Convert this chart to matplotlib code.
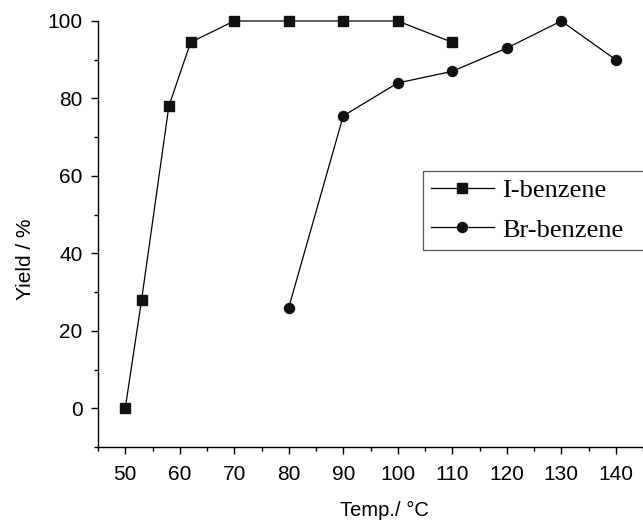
import matplotlib
matplotlib.use("Agg")
import matplotlib.pyplot as plt
from matplotlib.ticker import MultipleLocator

# Data
i_temp = [50, 53, 58, 62, 70, 80, 90, 100, 110]
i_yield = [0, 28, 78, 94.5, 100, 100, 100, 100, 94.5]
br_temp = [80, 90, 100, 110, 120, 130, 140]
br_yield = [26, 75.5, 84, 87, 93, 100, 90]
xticks = [50, 60, 70, 80, 90, 100, 110, 120, 130, 140]
yticks = [0, 20, 40, 60, 80, 100]

plt.rcParams['font.family'] = ['Liberation Sans', 'DejaVu Sans']

fig = plt.figure(figsize=(6.43, 5.22), dpi=100)
ax = fig.add_axes([98/643, 75/522, 545/643, 426/522])

ax.plot(i_temp, i_yield, color='black', lw=0.9, marker='s', ms=6.5,
        mfc='#111111', mec='#111111', clip_on=False, label='I-benzene', zorder=3)
ax.plot(br_temp, br_yield, color='black', lw=0.9, marker='o', ms=7.2,
        mfc='#111111', mec='#111111', clip_on=False, label='Br-benzene', zorder=3)

ax.set_xlim(45, 145)
ax.set_ylim(-10, 100)
ax.set_xticks(xticks)
ax.set_yticks(yticks)
ax.xaxis.set_minor_locator(MultipleLocator(5))
ax.yaxis.set_minor_locator(MultipleLocator(10))
ax.spines['top'].set_visible(False)
ax.spines['right'].set_visible(False)
for s in ('left', 'bottom'):
    ax.spines[s].set_linewidth(1.0)
ax.tick_params(which='major', direction='out', length=5, width=1.0, labelsize=15)
ax.tick_params(which='minor', direction='out', length=3, width=1.0)
ax.tick_params(axis='y', which='major', pad=6)
ax.tick_params(axis='x', which='major', pad=8)

ax.set_xlabel('Temp./ °C', fontsize=14.5)
ax.set_ylabel('Yield / %', fontsize=15)
ax.xaxis.set_label_coords(0.525, -0.127)
ax.yaxis.set_label_coords(-0.115, 0.44)

leg = ax.legend(loc='upper left', bbox_to_anchor=(0.596, 0.465, 0.6, 0.183),
                mode='expand', borderaxespad=0, fancybox=False, framealpha=1,
                edgecolor='#555555', handlelength=2.4, handletextpad=0.3,
                borderpad=0.3, labelspacing=0.6,
                prop={'family': 'Liberation Serif', 'size': 19})
leg.get_frame().set_linewidth(0.9)

fig.savefig('out.png', dpi=100)
